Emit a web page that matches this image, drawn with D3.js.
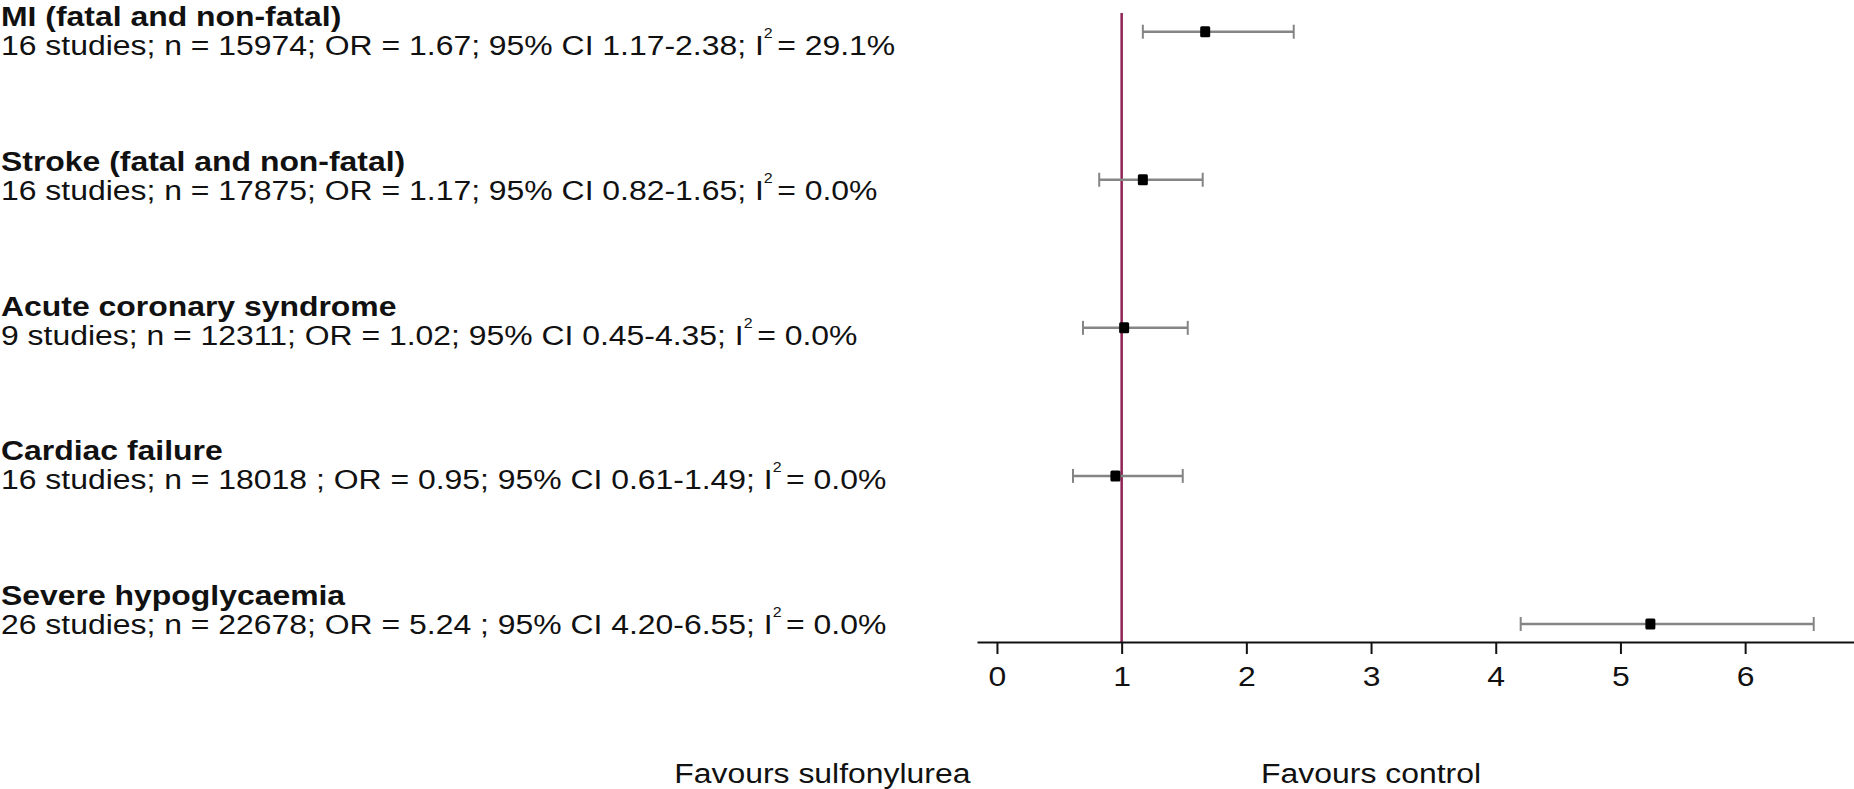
<!DOCTYPE html>
<html>
<head>
<meta charset="utf-8">
<script src="https://cdn.jsdelivr.net/npm/d3@7"></script>
<style>
  body { margin: 0; background: #fff; }
  text { font-family: "Liberation Sans", Arial, sans-serif; fill: #111; }
</style>
</head>
<body>
<script>

// outcome rows, top to bottom
var outcomes = ["MI (fatal and non-fatal)", "Stroke (fatal and non-fatal)", "Acute coronary syndrome", "Cardiac failure", "Severe hypoglycaemia"];
var summaries = [
    "16 studies; n = 15974; OR = 1.67; 95% CI 1.17-2.38; I",
    "16 studies; n = 17875; OR = 1.17; 95% CI 0.82-1.65; I",
    "9 studies; n = 12311; OR = 1.02; 95% CI 0.45-4.35; I",
    "16 studies; n = 18018 ; OR = 0.95; 95% CI 0.61-1.49; I",
    "26 studies; n = 22678; OR = 5.24 ; 95% CI 4.20-6.55; I"
];
var iSquared = ["29.1%", "0.0%", "0.0%", "0.0%", "0.0%"];

// plotted odds ratios and confidence limits
var oddsRatio = [1.67, 1.17, 1.02, 0.95, 5.24];
var ciLow = [1.17, 0.82, 0.69, 0.61, 4.20];
var ciHigh = [2.38, 1.65, 1.53, 1.49, 6.55];

var tickValues = [0, 1, 2, 3, 4, 5, 6];
var favourLabels = ["Favours sulfonylurea", "Favours control"];
var favourAt = [-1.4, 3];

var width = 1854;
var height = 789;
var SX = 1.14; // source picture is stretched sideways a little

var svg = d3.select("body")
    .append("svg")
    .attr("width", width)
    .attr("height", height);

var x = d3.scaleLinear().domain([-0.16, 6.873]).range([977, 1854]);
var y = d3.scalePoint().domain(outcomes).range([31.7, 624]);
var textY = d3.scalePoint().domain(outcomes).range([55, 634]);
var axisY = 642;

var rows = outcomes.map(function(d, i) {
    return {name: d, summary: summaries[i], i2: iSquared[i], or: oddsRatio[i], lo: ciLow[i], hi: ciHigh[i]};
});

// null line at OR = 1
svg.append("line")
    .attr("x1", x(1)).attr("x2", x(1))
    .attr("y1", 13).attr("y2", axisY)
    .attr("stroke", "#8e2254")
    .attr("stroke-width", 2.5);

// axis
var axis = svg.append("g")
    .attr("transform", "translate(0," + axisY + ")")
    .call(d3.axisBottom(x).tickValues(tickValues).tickFormat(d3.format("d"))
        .tickSize(12).tickSizeOuter(0).tickPadding(12));

axis.select(".domain").attr("stroke", "#111").attr("stroke-width", 2);
axis.selectAll(".tick line").attr("stroke", "#111").attr("stroke-width", 2);
axis.selectAll(".tick text")
    .style("font-size", "28px")
    .attr("fill", "#111")
    .attr("transform", "scale(" + SX + ",1)");

// confidence intervals
var ci = svg.append("g").selectAll(".ci")
    .data(rows)
    .enter().append("g")
    .attr("class", "ci");

ci.append("line")
    .attr("x1", function(d) { return x(d.lo); })
    .attr("x2", function(d) { return x(d.hi); })
    .attr("y1", function(d) { return y(d.name); })
    .attr("y2", function(d) { return y(d.name); })
    .attr("stroke", "#858585")
    .attr("stroke-width", 2.5);

ci.selectAll(".cap")
    .data(function(d) { return [{v: d.lo, name: d.name}, {v: d.hi, name: d.name}]; })
    .enter().append("line")
    .attr("class", "cap")
    .attr("x1", function(d) { return x(d.v); })
    .attr("x2", function(d) { return x(d.v); })
    .attr("y1", function(d) { return y(d.name) - 7; })
    .attr("y2", function(d) { return y(d.name) + 7; })
    .attr("stroke", "#858585")
    .attr("stroke-width", 2);

ci.append("rect")
    .attr("x", function(d) { return x(d.or) - 5; })
    .attr("y", function(d) { return y(d.name) - 5.5; })
    .attr("width", 10)
    .attr("height", 11)
    .attr("rx", 1.5)
    .attr("fill", "#000");

// left hand labels
var labels = svg.append("g").selectAll(".label")
    .data(rows)
    .enter().append("g")
    .attr("class", "label");

labels.append("text")
    .attr("transform", function(d) { return "translate(1," + (textY(d.name) - 29) + ") scale(" + SX + ",1)"; })
    .style("font-size", "28px")
    .style("font-weight", "bold")
    .text(function(d) { return d.name; });

var summary = labels.append("text")
    .attr("transform", function(d) { return "translate(1," + textY(d.name) + ") scale(" + SX + ",1)"; })
    .style("font-size", "28px");

summary.append("tspan").text(function(d) { return d.summary; });
summary.append("tspan")
    .attr("dy", -17)
    .style("font-size", "14px")
    .text("2");
summary.append("tspan")
    .attr("dx", 4)
    .attr("dy", 17)
    .text(function(d) { return "= " + d.i2; });

// favours labels under the axis
svg.append("g").selectAll(".favour")
    .data(favourLabels)
    .enter().append("text")
    .attr("class", "favour")
    .attr("transform", function(d, i) { return "translate(" + x(favourAt[i]) + ",783) scale(" + SX + ",1)"; })
    .attr("text-anchor", "middle")
    .style("font-size", "28px")
    .text(function(d) { return d; });

</script>
</body>
</html>
